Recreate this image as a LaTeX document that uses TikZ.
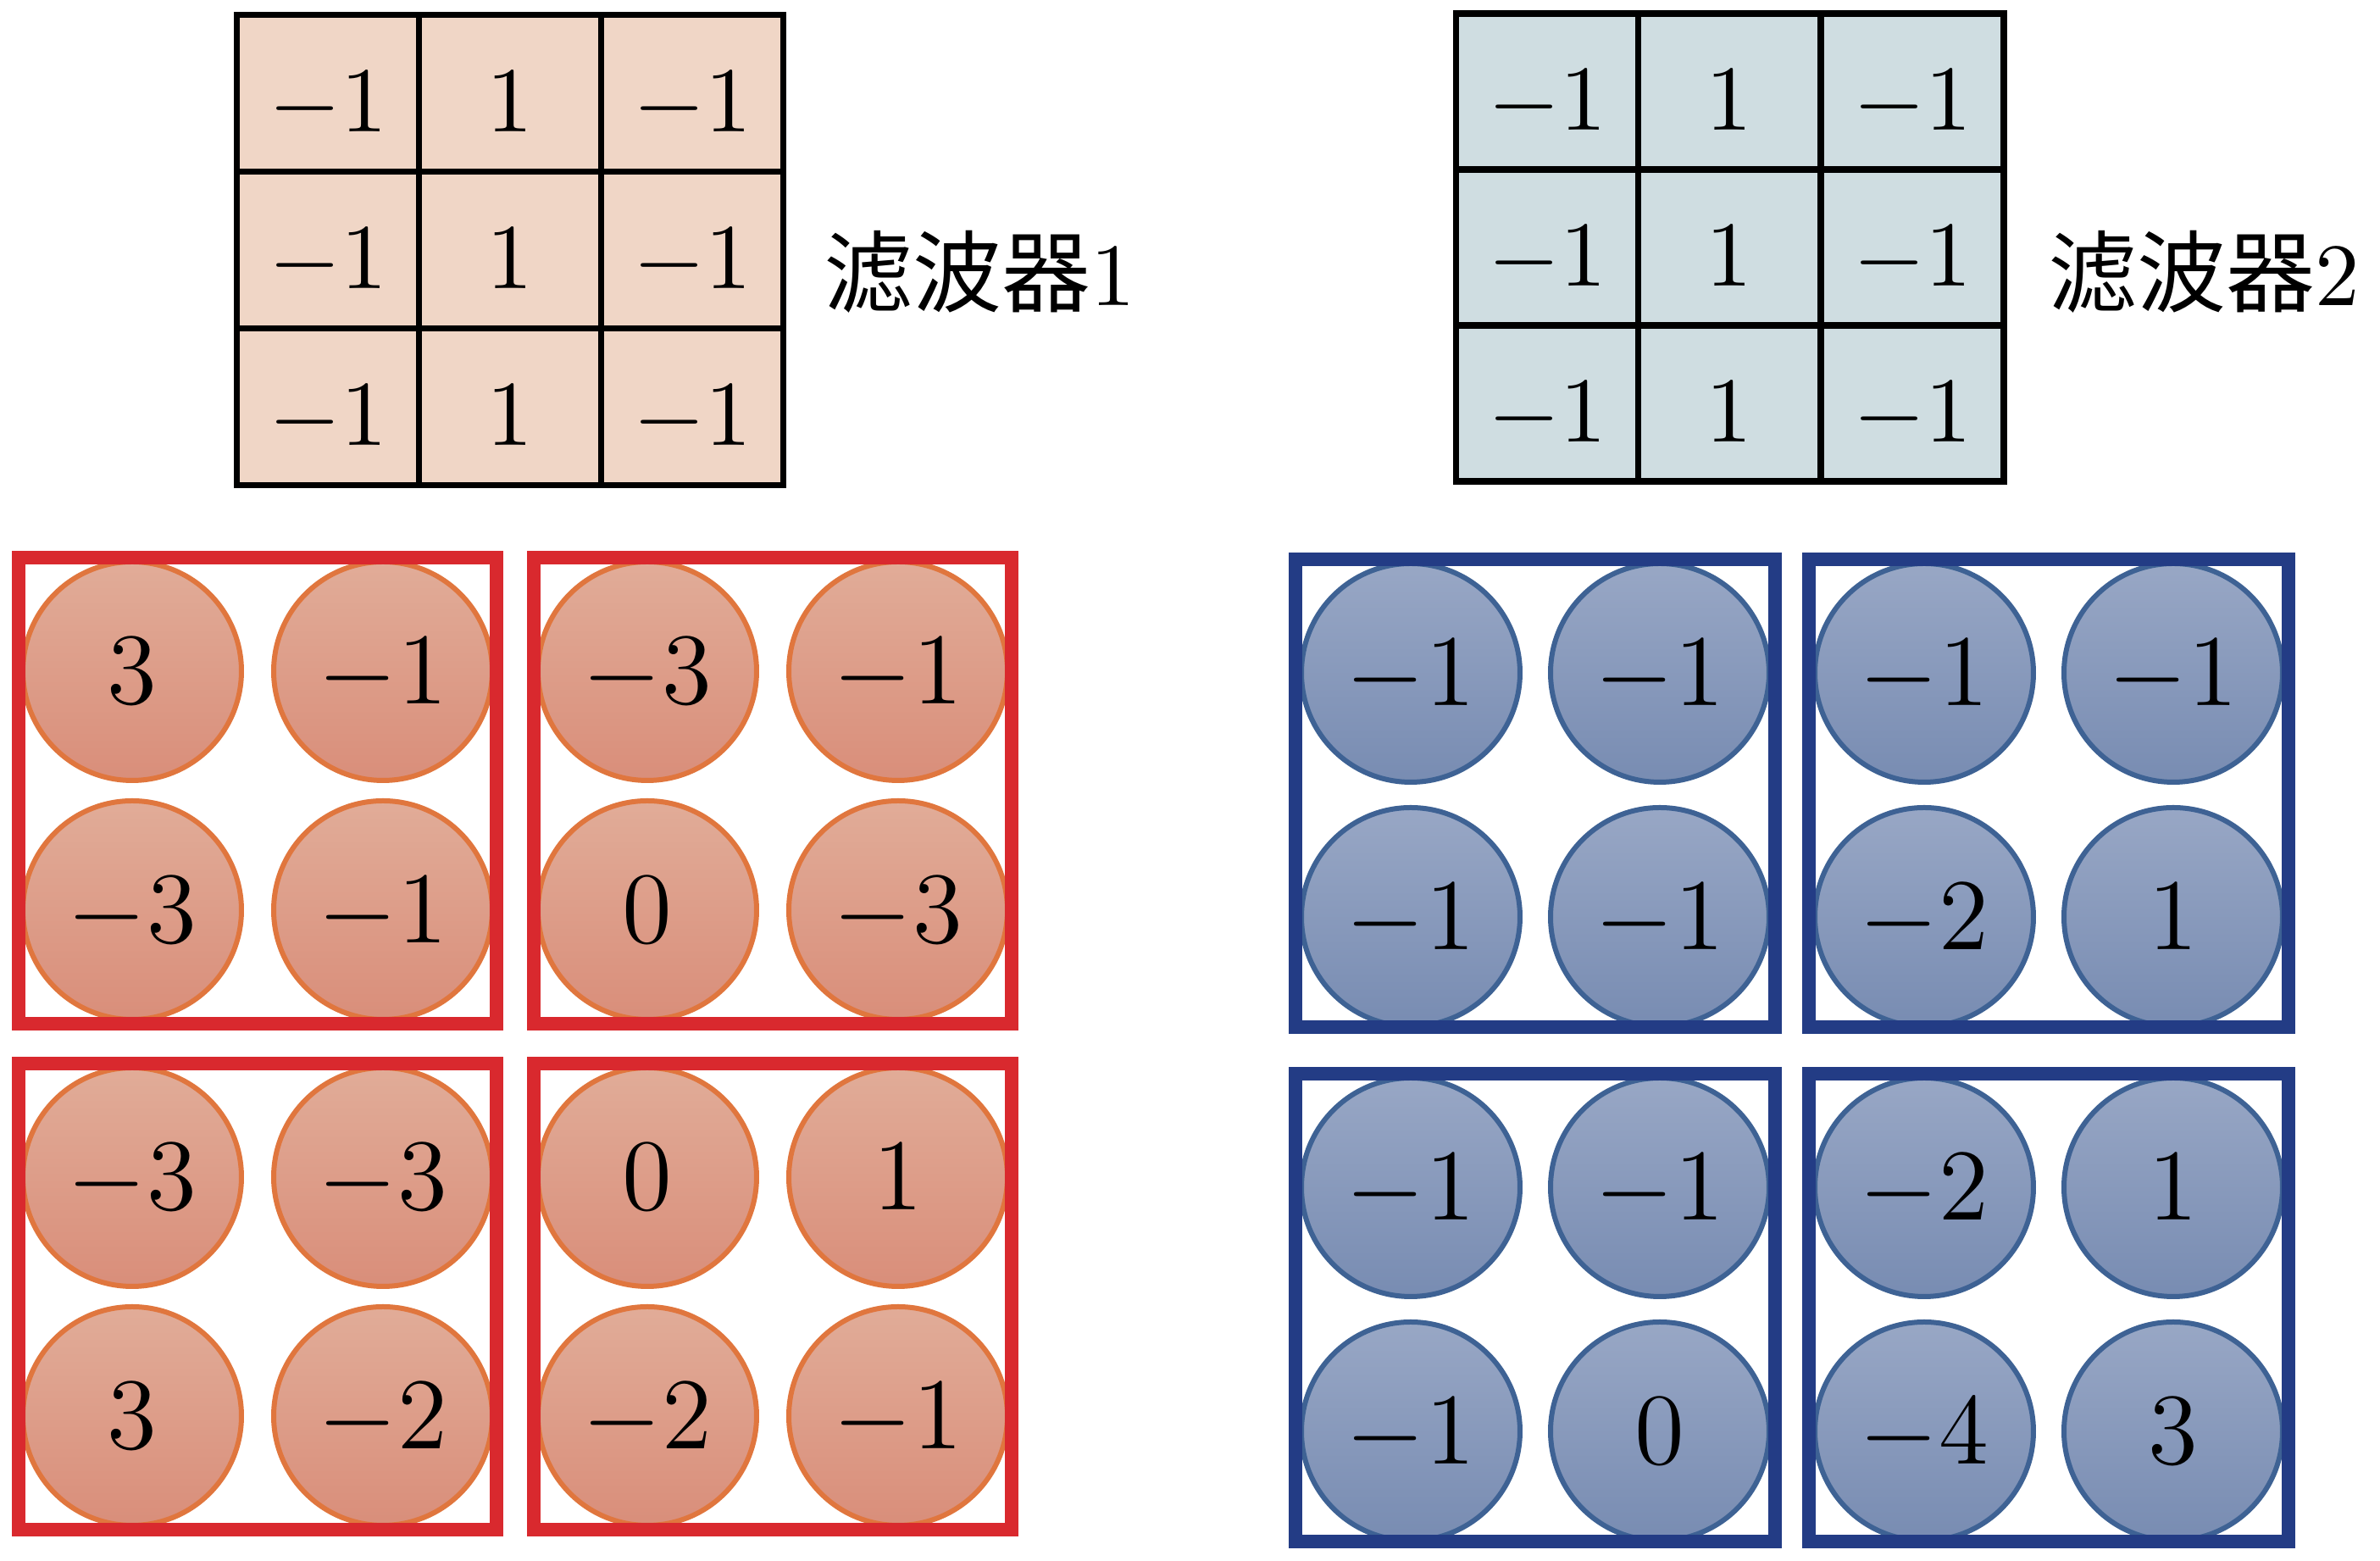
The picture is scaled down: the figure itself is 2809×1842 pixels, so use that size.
\documentclass[tikz,border=0pt]{standalone}
\usepackage{fontspec}
\newfontfamily\cjk{Noto Sans CJK SC}
\usetikzlibrary{calc}

\definecolor{peach}{RGB}{240,214,198}
\definecolor{mist}{RGB}{207,221,225}
\definecolor{frameRed}{RGB}{217,41,46}
\definecolor{frameBlue}{RGB}{35,60,133}
\definecolor{ballRedTop}{RGB}{225,172,152}
\definecolor{ballRedBot}{RGB}{217,142,122}
\definecolor{ballRedLine}{RGB}{224,118,62}
\definecolor{ballBlueTop}{RGB}{152,167,197}
\definecolor{ballBlueBot}{RGB}{120,140,178}
\definecolor{ballBlueLine}{RGB}{62,98,148}

\begin{document}
\begin{tikzpicture}[x=0.1pt, y=-0.1pt,
    every node/.style={inner sep=0pt,outer sep=0pt},
    cellA/.style={draw=black, line width=0.75pt, fill=peach, minimum width=21.55pt, minimum height=18.5pt, text height=9.1pt, text depth=0pt, font=\fontsize{11}{13}\selectfont},
    cellB/.style={cellA, fill=mist, minimum height=18.4pt},
    redball/.style={circle, draw=ballRedLine, line width=0.6pt, top color=ballRedTop, bottom color=ballRedBot, minimum size=25.8pt, text height=7.8pt, text depth=0pt, font=\fontsize{11.5}{14}\selectfont},
    blueball/.style={redball, draw=ballBlueLine, top color=ballBlueTop, bottom color=ballBlueBot},
    redframe/.style={draw=frameRed, line width=1.6pt, minimum width=56.4pt, minimum height=55pt},
    blueframe/.style={redframe, draw=frameBlue, minimum width=56.6pt, minimum height=55.2pt},
    tag/.style={font=\fontsize{10.5}{13}\selectfont}]
      \useasboundingbox (0,0) rectangle (2809,1842);

      % filter 1
      \draw (387,110) node[cellA] (fa11) {$-1$};
      \draw (602,110) node[cellA] (fa12) {$1$};
      \draw (817,110) node[cellA] (fa13) {$-1$};
      \draw (387,295) node[cellA] (fa21) {$-1$};
      \draw (602,295) node[cellA] (fa22) {$1$};
      \draw (817,295) node[cellA] (fa23) {$-1$};
      \draw (387,480) node[cellA] (fa31) {$-1$};
      \draw (602,480) node[cellA] (fa32) {$1$};
      \draw (817,480) node[cellA] (fa33) {$-1$};
      \draw (1156,321) node[tag] (ta) {{\cjk 滤波器}1};

      % filter 2
      \draw (1826,108) node[cellB] (fb11) {$-1$};
      \draw (2041,108) node[cellB] (fb12) {$1$};
      \draw (2257,108) node[cellB] (fb13) {$-1$};
      \draw (1826,292) node[cellB] (fb21) {$-1$};
      \draw (2041,292) node[cellB] (fb22) {$1$};
      \draw (2257,292) node[cellB] (fb23) {$-1$};
      \draw (1826,476) node[cellB] (fb31) {$-1$};
      \draw (2041,476) node[cellB] (fb32) {$1$};
      \draw (2257,476) node[cellB] (fb33) {$-1$};
      \draw (2601,321) node[tag] (tb) {{\cjk 滤波器}2};

      % red maps
      \draw (156,792) node[redball] (r1) {$3$};
      \draw (452,792) node[redball] (r2) {$-1$};
      \draw (156,1074) node[redball] (r3) {$-3$};
      \draw (452,1074) node[redball] (r4) {$-1$};
      \draw (764,792) node[redball] (r5) {$-3$};
      \draw (1060,792) node[redball] (r6) {$-1$};
      \draw (764,1074) node[redball] (r7) {$0$};
      \draw (1060,1074) node[redball] (r8) {$-3$};
      \draw (156,1389) node[redball] (r9) {$-3$};
      \draw (452,1389) node[redball] (r10) {$-3$};
      \draw (156,1671) node[redball] (r11) {$3$};
      \draw (452,1671) node[redball] (r12) {$-2$};
      \draw (764,1389) node[redball] (r13) {$0$};
      \draw (1060,1389) node[redball] (r14) {$1$};
      \draw (764,1671) node[redball] (r15) {$-2$};
      \draw (1060,1671) node[redball] (r16) {$-1$};

      \draw (304,933) node[redframe] (ra) {};
      \draw (912,933) node[redframe] (rb) {};
      \draw (304,1530) node[redframe] (rc) {};
      \draw (912,1530) node[redframe] (rd) {};

      % blue maps
      \draw (1665,794) node[blueball] (b1) {$-1$};
      \draw (1959,794) node[blueball] (b2) {$-1$};
      \draw (1665,1082) node[blueball] (b3) {$-1$};
      \draw (1959,1082) node[blueball] (b4) {$-1$};
      \draw (2271,794) node[blueball] (b5) {$-1$};
      \draw (2565,794) node[blueball] (b6) {$-1$};
      \draw (2271,1082) node[blueball] (b7) {$-2$};
      \draw (2565,1082) node[blueball] (b8) {$1$};
      \draw (1665,1401) node[blueball] (b9) {$-1$};
      \draw (1959,1401) node[blueball] (b10) {$-1$};
      \draw (1665,1689) node[blueball] (b11) {$-1$};
      \draw (1959,1689) node[blueball] (b12) {$0$};
      \draw (2271,1401) node[blueball] (b13) {$-2$};
      \draw (2565,1401) node[blueball] (b14) {$1$};
      \draw (2271,1689) node[blueball] (b15) {$-4$};
      \draw (2565,1689) node[blueball] (b16) {$3$};

      \draw (1812,936) node[blueframe] (ba) {};
      \draw (2418,936) node[blueframe] (bb) {};
      \draw (1812,1543) node[blueframe] (bc) {};
      \draw (2418,1543) node[blueframe] (bd) {};
    \end{tikzpicture}
\end{document}
